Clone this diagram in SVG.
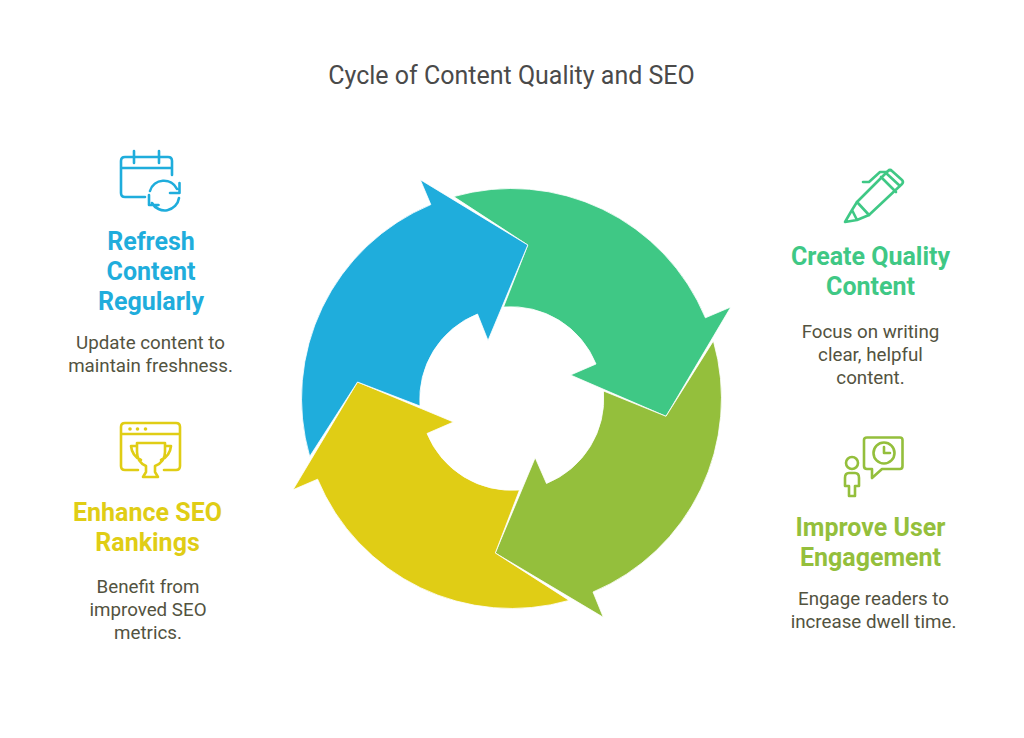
<svg xmlns="http://www.w3.org/2000/svg" width="1024" height="738" viewBox="0 0 1024 738">
<style>
text{font-family:Roboto,"Liberation Sans",sans-serif;text-anchor:middle}
.title{font-size:25px;fill:#4a4a4a}
.head{font-size:25px;font-weight:700}
.body{font-size:18.750px;fill:#53533f}
.ic{fill:none;stroke-width:2.600;stroke-linecap:round;stroke-linejoin:round}
.arrow{stroke:#fff;stroke-width:.8}
</style>
<rect width="1024" height="738" fill="#fff"/>
<text class="title" x="511.500" y="84">Cycle of Content Quality and SEO</text>
<g id="connectors">
<path id="arrow-green" class="arrow" fill="#3fc885" d="M453.700 196.600A210 210 0 0 1 705.400 317.800L730.800 307L666 416.300L570.500 375L596 364A91.600 91.600 0 0 0 503.500 307L527.800 245Z"/>
<path id="arrow-lime" class="arrow" fill="#94bf3c" d="M713.400 340.900A210 210 0 0 1 593 592L603.300 617.300L495.300 553L535.200 457.700L546.500 483.500A91.600 91.600 0 0 0 603.500 391L666 416.300Z"/>
<path id="arrow-yellow" class="arrow" fill="#e0cd15" d="M569.100 600.400A210 210 0 0 1 317.600 479.200L293 489.800L357.500 382L453.500 422L427 433.500A91.600 91.600 0 0 0 519.500 490L495.300 553Z"/>
<path id="arrow-blue" class="arrow" fill="#1fadDC" d="M309.700 456.400A210 210 0 0 1 430.800 204.600L420.300 179.700L527.800 245L488 340.500L477.500 314A91.600 91.600 0 0 0 420 406L357.500 382Z"/>
</g>
<g id="node-refresh">
<g class="ic" stroke="#1fadDC">
<path d="M145 197H125Q121 197 121 193V161Q121 157 125 157H168Q172 157 172 161V175M121 168H172M134 151V163M159 151V163"/>
<path d="M150 191A14.500 14.500 0 0 1 177 189M179.500 183V193H170"/>
<path d="M179 198A14.500 14.500 0 0 1 152 203M149 195V205H158.500"/>
</g>
<text class="head" fill="#1fadDC" x="151" y="249.500">Refresh</text>
<text class="head" fill="#1fadDC" x="151" y="279.500">Content</text>
<text class="head" fill="#1fadDC" x="151" y="309.500">Regularly</text>
<text class="body" x="150.500" y="349">Update content to</text>
<text class="body" x="150.500" y="372">maintain freshness.</text>
</g>
<g id="node-seo">
<g class="ic" stroke="#e0cd15">
<path d="M138 470H125Q121 470 121 466V427Q121 423 125 423H176Q180 423 180 427V466Q180 470 176 470H164M121 434H180"/>
<path d="M137 443H165V452Q165 462 155 466V472L158 477H143L146 472V466Q137 462 137 452ZM137 446H131Q132 456 141 460M165 446H171Q170 456 161 460"/>
</g>
<g fill="#e0cd15"><circle cx="130" cy="429" r="1.800"/><circle cx="137.500" cy="429" r="1.800"/><circle cx="145.500" cy="429" r="1.800"/></g>
<text class="head" fill="#e0cd15" x="147.500" y="520.500">Enhance SEO</text>
<text class="head" fill="#e0cd15" x="147.500" y="550.500">Rankings</text>
<text class="body" x="148" y="593">Benefit from</text>
<text class="body" x="148" y="616">improved SEO</text>
<text class="body" x="148" y="639">metrics.</text>
</g>
<g id="node-create">
<g class="ic" stroke="#3fc885">
<path d="M857 202L888 171Q890 169 892 171L902 180Q904 182 902 184L869 215ZM881 177L896 192M886 173L900 186"/>
<path d="M863 182H869L880 172H887"/>
<path d="M857 202L852 210L845 222L857 220L869 215M852 210L857 220"/>
</g>
<text class="head" fill="#3fc885" x="870.500" y="264.500">Create Quality</text>
<text class="head" fill="#3fc885" x="870.500" y="294.500">Content</text>
<text class="body" x="870.500" y="338">Focus on writing</text>
<text class="body" x="870.500" y="361">clear, helpful</text>
<text class="body" x="870.500" y="384">content.</text>
</g>
<g id="node-engage">
<g class="ic" stroke="#94bf3c">
<circle cx="852" cy="463" r="6"/>
<path d="M849 473H855Q859 473 859 478V486H855V496H849V486H845V478Q845 473 849 473Z"/>
<path d="M864 466V440Q864 437.500 867 437.500H900Q902.500 437.500 902.500 440V466Q902.500 469 900 469H882L872 478V469H867Q864 469 864 466Z"/>
<circle cx="884" cy="453" r="10.500"/>
<path d="M884 447V453H890"/>
</g>
<text class="head" fill="#94bf3c" x="870.500" y="535.500">Improve User</text>
<text class="head" fill="#94bf3c" x="870.500" y="565.500">Engagement</text>
<text class="body" x="873.500" y="605">Engage readers to</text>
<text class="body" x="873.500" y="628">increase dwell time.</text>
</g>
</svg>
